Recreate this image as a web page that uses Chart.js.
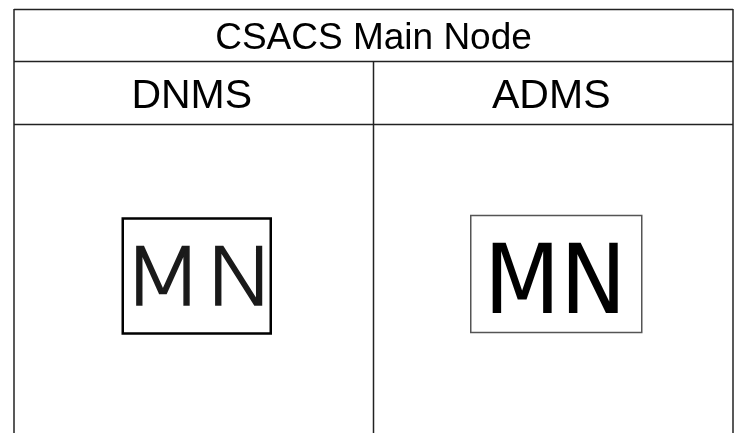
<!DOCTYPE html>
<html>
<head>
<meta charset="utf-8">
<script src="https://cdn.jsdelivr.net/npm/chart.js@4/dist/chart.umd.min.js"></script>
<style>
  html, body { margin: 0; padding: 0; background: #fff; }
  canvas { display: block; }
</style>
</head>
<body>
<canvas id="table" width="737" height="433"></canvas>
<script>
// table content
const title = 'CSACS Main Node';
const columns = ['DNMS', 'ADMS'];
const symbols = ['MN', 'MN'];

// draws the table rules and cell content on top of the (hidden) scales
const tablePlugin = {
  id: 'tablePlugin',
  afterDraw(chart, args, opts) {
    const ctx = chart.ctx;
    const xs = chart.scales.x;
    const ys = chart.scales.y;
    const X = v => xs.getPixelForValue(v);
    const Y = v => ys.getPixelForValue(v);
    const yTop = ys.min, yBot = ys.max;
    const [h1, h2] = opts.rowBreaks;

    ctx.save();
    ctx.strokeStyle = '#222';
    ctx.lineWidth = 1.5;
    const line = (x0, y0, x1, y1) => {
      ctx.beginPath();
      ctx.moveTo(x0, y0);
      ctx.lineTo(x1, y1);
      ctx.stroke();
    };
    // outer frame (no bottom edge, the table runs off the page)
    line(X(0), Y(yTop) + 0.5, X(columns.length), Y(yTop) + 0.5);
    line(X(0), Y(yTop), X(0), Y(yBot));
    line(X(columns.length), Y(yTop), X(columns.length), Y(yBot));
    // header rule and row rule
    line(X(0), Y(h1), X(columns.length), Y(h1));
    line(X(0), Y(h2), X(columns.length), Y(h2));
    // column dividers below the header
    for (let i = 1; i < columns.length; i++) {
      line(X(i), Y(h1), X(i), Y(yBot));
    }

    // title spanning all columns
    ctx.fillStyle = '#000';
    ctx.textAlign = 'center';
    ctx.textBaseline = 'alphabetic';
    ctx.font = '37px "Liberation Sans", Arial, sans-serif';
    ctx.fillText(title, X(columns.length / 2), Y(h1) - 12.5);

    // column headers
    ctx.font = '41px "Liberation Sans", Arial, sans-serif';
    columns.forEach((c, i) => {
      ctx.fillText(c, X(i + 0.5) - 2, Y(h2) - 16.5);
    });

    // symbol boxes
    symbols.forEach((s, i) => {
      const st = opts.symbolStyles[i];
      const cx = X(i + 0.5) + st.dx;
      const cy = Y(h2) + st.dy;
      ctx.strokeStyle = st.border;
      ctx.lineWidth = st.borderWidth;
      ctx.strokeRect(cx - st.w / 2, cy - st.h / 2, st.w, st.h);

      ctx.font = st.font;
      ctx.fillStyle = st.color;
      const m = ctx.measureText(s);
      const inkW = m.actualBoundingBoxLeft + m.actualBoundingBoxRight;
      const sx = st.textW / inkW;
      ctx.save();
      ctx.translate(cx + st.textDx, cy + st.baseline);
      ctx.scale(sx, 1);
      ctx.textAlign = 'center';
      ctx.fillText(s, 0, 0);
      if (st.outline) {
        ctx.strokeStyle = st.color;
        ctx.lineWidth = st.outline;
        ctx.strokeText(s, 0, 0);
      }
      ctx.restore();
    });
    ctx.restore();
  }
};

new Chart(document.getElementById('table'), {
  type: 'scatter',
  data: { datasets: [{ data: [] }] },
  options: {
    responsive: false,
    animation: false,
    events: [],
    layout: { padding: { left: 14, right: 4, top: 9, bottom: 0 } },
    scales: {
      x: { type: 'linear', min: 0, max: columns.length, display: false },
      y: { type: 'linear', min: 0, max: 424, reverse: true, display: false }
    },
    plugins: {
      legend: { display: false },
      tooltip: { enabled: false },
      tablePlugin: {
        rowBreaks: [52.5, 115.5],
        symbolStyles: [
          { dx: 3, dy: 151.5, w: 148, h: 115, border: '#000', borderWidth: 2.5,
            font: '200 80px "DejaVu Sans", sans-serif', color: '#1a1a1a', outline: 1.3,
            textW: 126, textDx: 2, baseline: 28.5 },
          { dx: 3, dy: 149.5, w: 171, h: 117, border: '#555', borderWidth: 1.5,
            font: '96px "DejaVu Sans", sans-serif', color: '#000',
            textW: 126, textDx: -1, baseline: 38.5 }
        ]
      }
    }
  },
  plugins: [tablePlugin]
});
</script>
</body>
</html>
